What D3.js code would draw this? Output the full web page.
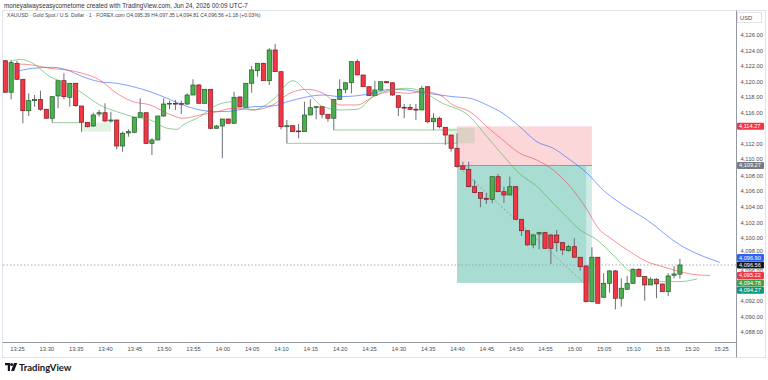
<!DOCTYPE html>
<html>
<head>
<meta charset="utf-8">
<script src="https://cdn.jsdelivr.net/npm/d3@7"></script>
<style>
  html, body { margin: 0; padding: 0; background: #fff; }
  svg { display: block; font-family: "Liberation Sans", Roboto, sans-serif; }
</style>
</head>
<body>
<div id="chart"></div>
<script>
/**
 * CONSTANTS AND DATA
 * */
const width = 768, height = 380;

// first candle is 13:23, one candle per minute
const firstCandle = "13:23";

const opens = [4122.65,4118.62,4122.32,4120.28,4116.27,4117.55,4117.72,4116.45,4115.30,4118.15,
  4120.10,4117.98,4119.77,4116.87,4114.79,4114.31,4115.85,4116.01,4114.95,4115.08,
  4111.76,4113.42,4113.51,4115.43,4116.01,4112.10,4112.53,4115.59,4117.12,4117.21,
  4117.18,4117.12,4118.27,4119.55,4117.21,4119.00,4114.02,4114.31,4115.21,4114.66,
  4118.02,4116.70,4119.77,4121.38,4122.32,4120.10,4124.02,4121.25,4114.22,4114.35,
  4113.68,4113.59,4115.72,4116.70,4116.78,4115.81,4115.30,4117.72,4119.00,4119.84,
  4122.53,4120.83,4119.33,4118.18,4118.91,4119.97,4119.84,4118.18,4116.70,4116.70,
  4116.45,4116.36,4119.33,4114.86,4115.30,4114.15,4113.16,4111.47,4109.21,4108.78,
  4106.56,4105.80,4105.08,4104.95,4107.84,4105.92,4105.50,4106.56,4102.40,4100.94,
  4099.12,4100.52,4100.69,4100.39,4100.39,4099.41,4098.39,4098.90,4097.55,4096.43,
  4091.87,4097.55,4092.44,4094.22,4095.80,4092.31,4093.46,4094.22,4096.01,4095.07,
  4094.01,4094.74,4094.14,4093.15,4095.25,4095.39];
const highs = [4122.74,4122.74,4122.65,4120.30,4118.49,4118.27,4118.82,4116.50,4118.06,4120.19,
  4121.04,4119.77,4119.80,4116.87,4114.80,4116.01,4116.36,4117.21,4116.14,4115.10,
  4113.59,4113.89,4115.43,4117.85,4116.01,4112.74,4115.60,4117.85,4117.55,4117.64,
  4117.55,4118.49,4120.28,4119.68,4119.00,4119.00,4114.44,4115.21,4115.21,4118.69,
  4118.10,4119.80,4121.98,4122.32,4122.40,4124.24,4124.79,4121.30,4115.08,4114.40,
  4114.57,4117.42,4117.72,4116.80,4116.80,4115.81,4117.72,4120.28,4119.84,4122.53,
  4122.83,4120.83,4119.33,4120.10,4119.97,4120.06,4119.84,4118.20,4117.12,4117.12,
  4117.12,4119.42,4119.40,4115.94,4115.50,4114.15,4113.16,4113.38,4109.76,4109.76,
  4107.42,4105.80,4105.72,4107.84,4108.18,4106.56,4107.84,4106.60,4102.40,4100.94,
  4100.52,4100.80,4100.80,4100.50,4101.03,4099.50,4099.12,4099.97,4097.55,4096.50,
  4098.82,4097.60,4095.50,4095.92,4095.90,4094.86,4095.16,4096.14,4096.14,4095.10,
  4095.00,4094.86,4094.14,4095.50,4096.43,4097.35];
const lows = [4118.62,4117.72,4120.19,4114.66,4115.59,4116.78,4116.27,4115.30,4114.74,4116.57,
  4117.72,4116.78,4116.78,4113.59,4114.15,4114.22,4115.50,4114.86,4114.74,4111.34,
  4111.03,4112.95,4113.40,4115.43,4112.01,4110.61,4112.50,4115.50,4116.45,4116.36,
  4115.85,4117.00,4118.27,4117.20,4117.20,4113.89,4114.00,4110.19,4114.66,4114.66,
  4116.74,4116.70,4118.57,4120.61,4120.10,4119.55,4121.25,4113.89,4112.10,4113.59,
  4112.74,4113.59,4115.72,4115.17,4115.30,4114.86,4113.80,4117.70,4118.49,4118.49,
  4120.83,4119.33,4118.18,4118.18,4118.80,4119.77,4118.18,4115.59,4115.30,4116.36,
  4115.08,4116.36,4114.66,4113.80,4114.02,4111.89,4111.03,4109.00,4108.69,4106.50,
  4105.72,4103.93,4104.35,4104.44,4105.92,4104.48,4105.50,4102.40,4100.27,4099.03,
  4098.69,4098.57,4098.60,4096.69,4098.26,4097.84,4098.26,4097.50,4095.83,4091.80,
  4091.80,4091.67,4092.40,4093.02,4090.90,4091.24,4093.40,4094.20,4095.07,4092.00,
  4094.00,4092.31,4093.15,4092.60,4094.86,4094.81];
const closes = [4118.62,4122.40,4120.28,4116.27,4117.55,4117.72,4116.45,4115.30,4118.06,4120.10,
  4118.06,4119.77,4116.91,4114.79,4114.22,4115.72,4116.01,4114.95,4115.08,4111.76,
  4113.38,4113.59,4115.43,4116.01,4112.10,4112.53,4115.59,4117.12,4117.21,4117.18,
  4117.12,4118.27,4119.55,4117.21,4119.00,4114.02,4114.31,4115.21,4114.66,4117.98,
  4116.74,4119.77,4121.47,4122.32,4120.10,4124.02,4121.25,4114.22,4114.35,4113.59,
  4113.59,4115.72,4116.65,4116.78,4115.81,4115.30,4117.72,4119.00,4119.84,4122.53,
  4120.83,4119.33,4118.18,4118.91,4119.97,4119.84,4118.27,4116.70,4116.61,4116.45,
  4116.36,4119.13,4114.86,4115.30,4114.22,4113.16,4111.47,4109.12,4108.78,4106.56,
  4105.80,4105.08,4104.95,4107.84,4105.92,4105.50,4106.56,4102.40,4100.94,4099.12,
  4100.39,4100.69,4098.69,4098.69,4099.41,4098.48,4098.90,4097.55,4096.34,4091.87,
  4097.55,4091.67,4094.22,4095.80,4092.31,4093.59,4094.22,4096.01,4095.07,4094.01,
  4094.74,4094.14,4093.15,4095.16,4095.41,4096.56];

// moving averages: [minutes after 13:25, price]
const maSlow = [[-0.3,4121.25],[2.7,4121.68],[6.1,4121.81],[8.5,4121.47],[11.2,4120.61],[14.1,4119.97],
  [17,4119.77],[19.8,4119.33],[22.7,4118.69],[25.6,4117.85],[28.3,4117.0],[31.2,4116.36],[34.1,4116.14],
  [36.8,4116.23],[40.2,4116.78],[43.6,4116.87],[46.5,4117.5],[52.2,4118.27],[55.1,4118.06],[60.7,4118.49],
  [63.6,4119.0],[66.5,4118.91],[69.2,4118.57],[72.1,4118.27],[74.3,4118.06],[77.2,4117.85],[80.1,4117.0],
  [82.8,4115.94],[85.7,4114.22],[88.6,4112.31],[91.4,4111.47],[94.3,4109.97],[97.2,4108.27],[99.9,4106.14],
  [102.8,4104.48],[107.4,4102.31],[113,4099.12],[116.4,4097.84],[119.8,4096.9]];
const maMid = [[0.2,4122.23],[2.7,4122.10],[5.6,4121.68],[8.5,4121.47],[11.2,4121.04],[14.1,4120.19],
  [17,4118.49],[19.8,4117.42],[22.7,4117.0],[25.6,4115.94],[28.3,4115.30],[31.2,4115.72],[34.1,4116.14],
  [36.8,4116.57],[40.2,4116.36],[43.6,4117.0],[46.5,4118.49],[49.4,4119.0],[52.2,4118.49],[55.1,4117.0],
  [58,4117.0],[60.7,4118.06],[63.6,4118.69],[66.5,4118.49],[69.2,4118.69],[72.1,4118.27],[74.3,4117.0],
  [77.2,4116.14],[80.1,4114.22],[82.8,4112.53],[85.7,4110.83],[88.6,4109.97],[91.4,4108.69],[94.3,4106.56],
  [97.2,4103.59],[98.9,4101.45],[101.6,4099.75],[104.5,4098.26],[107.4,4096.98],[110.1,4096.34],
  [113,4095.71],[115.9,4095.30],[118.1,4095.22]];
const maFast = [[-1.2,4122.53],[0.5,4122.83],[2.7,4122.32],[5.6,4120.61],[8.5,4119.77],[11.2,4118.49],
  [14.1,4117.0],[17,4116.14],[19.8,4115.50],[22.7,4115.08],[25.6,4114.02],[27.3,4113.89],[28.3,4114.44],
  [31.2,4115.50],[34.1,4117.0],[36.8,4117.42],[40.2,4116.36],[43.6,4117.64],[47,4120.10],[49.4,4118.69],
  [52.2,4116.78],[55.1,4116.36],[58,4116.45],[60.7,4118.06],[63.6,4118.91],[66.5,4119.13],[69.2,4118.69],
  [72.1,4117.38],[77.2,4115.50],[80.1,4112.95],[82.8,4110.6],[85.7,4108.2],[88.6,4106.6],[91.4,4104.44],
  [93.1,4103.16],[96,4101.03],[98.9,4099.75],[101.6,4097.84],[104.5,4095.71],[107.4,4094.86],
  [110.1,4094.44],[113,4094.44],[115.9,4094.78]];

// long position tool
const entryPrice = 4109.27, stopPrice = 4114.27, targetPrice = 4094.27;
const posStart = "14:40", posClose = "15:02", posEnd = "15:03";

// swept lows: level line, then the shaded sweep area
const sweepLines = [["13:31","13:36",4114.74],["14:11","14:40",4112.10],["14:19","14:40",4113.80]];
const sweepZones = [["13:36","13:41",4114.74,4113.59],["14:38","14:43",4114.10,4112.10]];

// right-side price labels: [value, background]
const lastLabels = [[4096.90,"#2f62f4"],[4096.56,"#131722"],[4095.22,"#f23645"],[4094.78,"#43a047"],[4094.27,"#089981"]];

const priceTicks = [4088,4090,4092,4094,4096,4098,4100,4102,4104,4106,4108,4110,4112,4114,4116,4118,4120,4122,4124,4126];
const timeTicks = ["13:25","13:30","13:35","13:40","13:45","13:50","13:55","14:00","14:05","14:10","14:15","14:20",
  "14:25","14:30","14:35","14:40","14:45","14:50","14:55","15:00","15:05","15:10","15:15","15:20","15:25"];

const parseTime = d3.timeParse("%H:%M");
const minuteAfter = (m) => d3.timeSecond.offset(parseTime("13:25"), Math.round(m * 60));

/**
 * SCALES
 * */
const x = d3.scaleTime()
  .domain([parseTime("13:25"), parseTime("15:25")])
  .range([17, 721]);
const y = d3.scaleLinear()
  .domain([4088, 4126])
  .range([332, 34.5]);

const candles = opens.map((o, i) => ({
  t: d3.timeMinute.offset(parseTime(firstCandle), i),
  o, h: highs[i], l: lows[i], c: closes[i]
}));

/**
 * DRAW
 * */
const svg = d3.select("#chart").append("svg")
  .attr("width", width)
  .attr("height", height);

svg.append("rect").attr("width", width).attr("height", height).attr("fill", "#fff");

// header
svg.append("text")
  .attr("x", 4).attr("y", 7.5)
  .attr("font-size", 6.3).attr("fill", "#333")
  .text("moneyalwayseasycometome created with TradingView.com, Jun 24, 2026 00:09 UTC-7");

// panel frame
svg.append("rect")
  .attr("x", 2.5).attr("y", 10.5).attr("width", 763).attr("height", 347)
  .attr("fill", "none").attr("stroke", "#e0e3eb");

svg.append("text")
  .attr("x", 7).attr("y", 17.3)
  .attr("font-size", 5.1).attr("fill", "#434651")
  .text("XAUUSD · Gold Spot / U.S. Dollar · 1 · FOREX.com  O4,095.39  H4,097.35  L4,094.81  C4,096.56  +1.18 (+0.03%)");

const plot = svg.append("g");
plot.append("clipPath").attr("id", "clip")
  .append("rect").attr("x", 3).attr("y", 11).attr("width", 733).attr("height", 331);
const g = plot.append("g").attr("clip-path", "url(#clip)");

// position box
const xs = x(parseTime(posStart)), xe = x(parseTime(posEnd)), xc = x(parseTime(posClose));
g.append("rect")
  .attr("x", xs).attr("y", y(stopPrice))
  .attr("width", xe - xs).attr("height", y(entryPrice) - y(stopPrice))
  .attr("fill", "rgba(242,54,69,0.2)");
g.append("rect")
  .attr("x", xs).attr("y", y(entryPrice))
  .attr("width", xe - xs).attr("height", y(targetPrice) - y(entryPrice))
  .attr("fill", "rgba(8,153,129,0.2)");
g.append("rect")
  .attr("x", xs).attr("y", y(entryPrice))
  .attr("width", xc - xs).attr("height", y(targetPrice) - y(entryPrice))
  .attr("fill", "rgba(8,153,129,0.18)");
g.append("line")
  .attr("x1", xs).attr("x2", xe)
  .attr("y1", y(entryPrice)).attr("y2", y(entryPrice))
  .attr("stroke", "#9598a1").attr("stroke-width", 1);
g.append("line")
  .attr("x1", xs).attr("y1", y(entryPrice))
  .attr("x2", xc).attr("y2", y(targetPrice) + 2)
  .attr("stroke", "#8a8d96").attr("stroke-width", 0.8).attr("stroke-dasharray", "2,2");

// sweep lines and zones
g.selectAll(".sweep-line").data(sweepLines).join("line")
  .attr("class", "sweep-line")
  .attr("x1", d => x(parseTime(d[0]))).attr("x2", d => x(parseTime(d[1])))
  .attr("y1", d => y(d[2])).attr("y2", d => y(d[2]))
  .attr("stroke", "#9fcba1").attr("stroke-width", 1);
g.selectAll(".sweep-zone").data(sweepZones).join("rect")
  .attr("class", "sweep-zone")
  .attr("x", d => x(parseTime(d[0])))
  .attr("width", d => x(parseTime(d[1])) - x(parseTime(d[0])))
  .attr("y", d => y(d[2]))
  .attr("height", d => y(d[3]) - y(d[2]))
  .attr("fill", "rgba(76,175,80,0.16)");

// last price dotted line
const lastClose = closes[closes.length - 1];
g.append("line")
  .attr("x1", 3).attr("x2", 736)
  .attr("y1", y(lastClose)).attr("y2", y(lastClose))
  .attr("stroke", "#9598a1").attr("stroke-width", 0.8).attr("stroke-dasharray", "1.5,2");

// candles
const bw = 4.2;
const up = d => d.c >= d.o;
const cg = g.append("g").selectAll("g").data(candles).join("g");
cg.append("line")
  .attr("x1", d => x(d.t)).attr("x2", d => x(d.t))
  .attr("y1", d => y(d.h)).attr("y2", d => y(d.l))
  .attr("stroke", "#6b6e78").attr("stroke-width", 1);
cg.append("rect")
  .attr("x", d => x(d.t) - bw / 2)
  .attr("width", bw)
  .attr("y", d => y(Math.max(d.o, d.c)))
  .attr("height", d => Math.max(0.8, Math.abs(y(d.o) - y(d.c))))
  .attr("fill", d => up(d) ? "#4caf50" : "#f23645")
  .attr("stroke", d => up(d) ? "#1f5e23" : "#7a1c24")
  .attr("stroke-width", 0.7);

// moving averages
const maLine = d3.line()
  .x(d => x(minuteAfter(d[0])))
  .y(d => y(d[1]))
  .curve(d3.curveMonotoneX);
[[maSlow, "rgba(41,98,255,0.6)"], [maMid, "rgba(242,54,69,0.55)"], [maFast, "rgba(76,175,80,0.6)"]]
  .forEach(([data, color]) => {
    g.append("path").datum(data)
      .attr("d", maLine)
      .attr("fill", "none")
      .attr("stroke", color)
      .attr("stroke-width", 1);
  });

// axes
svg.append("line").attr("x1", 2.5).attr("x2", 736).attr("y1", 342.5).attr("y2", 342.5).attr("stroke", "#9598a1");
svg.append("line").attr("x1", 736.5).attr("x2", 736.5).attr("y1", 10.5).attr("y2", 357.5).attr("stroke", "#9598a1");

const xAxis = svg.append("g")
  .attr("transform", "translate(0,342.5)")
  .call(d3.axisBottom(x)
    .tickValues(timeTicks.map(parseTime))
    .tickFormat(d3.timeFormat("%H:%M"))
    .tickSize(0).tickPadding(4));
xAxis.select(".domain").remove();
xAxis.selectAll("text").attr("font-size", 5.8).attr("fill", "#4a4d57").attr("font-family", "Liberation Sans, sans-serif");

// price labels positions (stacked around the last price)
const stack = lastLabels.map(d => ({ v: d[0], bg: d[1], ly: y(d[0]) }));
const anchor = stack.findIndex(d => d.v === lastClose);
for (let i = anchor - 1; i >= 0; i--) stack[i].ly = Math.min(stack[i].ly, stack[i + 1].ly - 7.4);
for (let i = anchor + 1; i < stack.length; i++) stack[i].ly = Math.max(stack[i].ly, stack[i - 1].ly + 7.4);
const allLabels = [{ v: stopPrice, bg: "#f23645", ly: y(stopPrice) },
  { v: entryPrice, bg: "#787b86", ly: y(entryPrice) }].concat(stack);

const yAxis = svg.append("g")
  .attr("transform", "translate(736.5,0)")
  .call(d3.axisRight(y)
    .tickValues(priceTicks)
    .tickFormat(d3.format(",.2f"))
    .tickSize(0).tickPadding(4));
yAxis.select(".domain").remove();
yAxis.selectAll("text").attr("font-size", 5.8).attr("fill", "#4a4d57").attr("font-family", "Liberation Sans, sans-serif");
// hide ticks covered by a label, nudge the ones that only touch one
yAxis.selectAll(".tick").each(function (v) {
  let ty = y(v);
  const near = d3.least(allLabels, l => Math.abs(l.ly - ty));
  const dist = ty - near.ly;
  if (Math.abs(dist) < 3) d3.select(this).remove();
  else if (Math.abs(dist) < 6.2) {
    ty = near.ly + Math.sign(dist) * 6.2;
    d3.select(this).attr("transform", `translate(0,${ty})`);
  }
});

// USD box
svg.append("rect").attr("x", 737.5).attr("y", 12.5).attr("width", 24).attr("height", 10)
  .attr("fill", "#fff").attr("stroke", "#e0e3eb");
svg.append("text").attr("x", 740).attr("y", 19.5).attr("font-size", 5.8).attr("fill", "#4a4d57").text("USD");

// price labels on the axis
allLabels.forEach(d => {
  svg.append("rect").attr("x", 737).attr("y", d.ly - 3.5).attr("width", 27).attr("height", 7)
    .attr("fill", d.bg).attr("rx", 1);
  svg.append("text").attr("x", 739).attr("y", d.ly + 2)
    .attr("font-size", 5.6).attr("fill", "#fff")
    .text(d3.format(",.2f")(d.v));
});

// TradingView logo
const logo = svg.append("g").attr("transform", "translate(5,363)").attr("fill", "#131722");
logo.append("path").attr("d", "M0,0 H5 V8 H2.8 V2.2 H0 Z");
logo.append("circle").attr("cx", 6.6).attr("cy", 1.6).attr("r", 1.5);
logo.append("path").attr("d", "M9,0 H12.2 L9.2,8 H6 Z");
svg.append("text").attr("x", 19).attr("y", 371)
  .attr("font-size", 9.5).attr("font-weight", 700).attr("fill", "#131722")
  .attr("font-family", "Lato, 'Liberation Sans', sans-serif")
  .text("TradingView");
</script>
</body>
</html>
